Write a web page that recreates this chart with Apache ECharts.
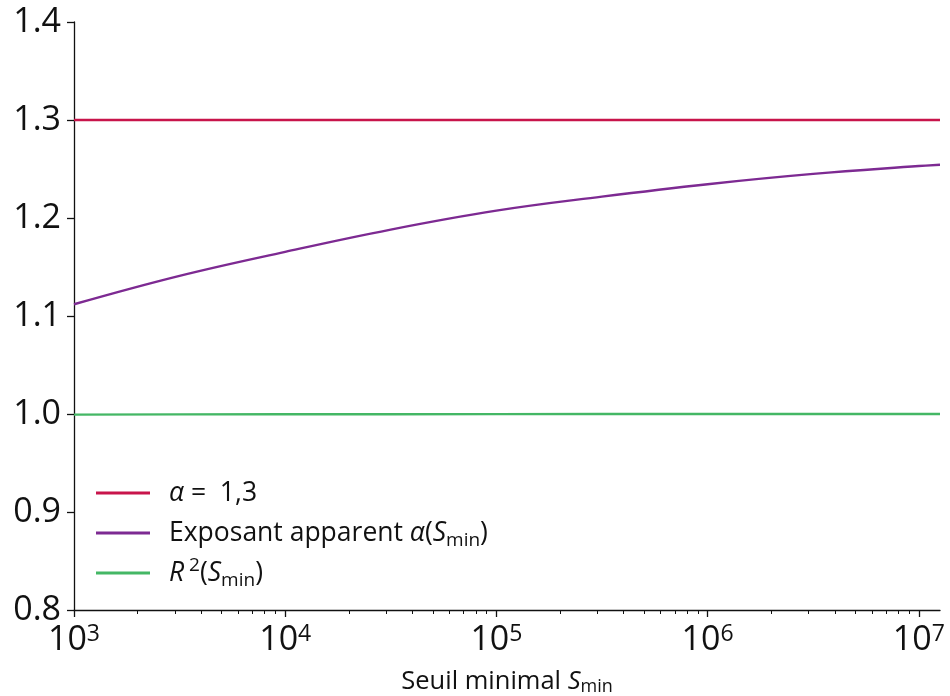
<!DOCTYPE html>
<html><head><meta charset="utf-8">
<script src="https://cdn.jsdelivr.net/npm/echarts@6/dist/echarts.min.js"></script>
<style>html,body{margin:0;padding:0;background:#fff}#c{width:950px;height:696px}</style>
</head><body><div id="c"></div>
<script>
const xMin = 1000, xMax = 1.26e7;
const majorTicks = [1e3, 1e4, 1e5, 1e6, 1e7];
const minorTicks = [];
[1e3, 1e4, 1e5, 1e6, 1e7].forEach(d => { for (let k = 2; k <= 9; k++) { if (d * k <= xMax) minorTicks.push(d * k); } });

const alphaTrueX = [1000, 1.26e7];
const alphaTrueY = [1.3, 1.3];

const sMin = [1e3, 3.16e3, 1e4, 3.16e4, 1e5, 3.16e5, 1e6, 3.16e6, 1e7, 1.26e7];
const alphaApparent = [1.112, 1.141, 1.1655, 1.1882, 1.2075, 1.2218, 1.2345, 1.2450, 1.2530, 1.2544];
const r2 = [0.9994, 0.9996, 0.9997, 0.9998, 0.9999, 0.99995, 1.0, 1.0, 1.0, 1.0];

const names = ['alpha13', 'apparent', 'r2'];
const colors = ['#c8144b', '#7d2a92', '#44b765'];

const font = '"Open Sans", "Noto Sans", sans-serif';
const chart = echarts.init(document.getElementById('c'));
const grid = { left: 74, right: 10, top: 22, bottom: 86, containLabel: false, outerBoundsMode: 'none' };

chart.setOption({
  animation: false,
  backgroundColor: '#fff',
  grid: grid,
  legend: {
    orient: 'vertical', left: 91, top: 471, itemGap: 6,
    icon: 'rect', itemWidth: 54, itemHeight: 3,
    data: names,
    textStyle: {
      fontFamily: font, fontSize: 26.5, color: '#111', padding: [0, 0, 0, 14], lineHeight: 34,
      rich: {
        i: { fontFamily: font, fontSize: 26.5, fontStyle: 'italic', color: '#111', lineHeight: 34 },
        n: { fontFamily: font, fontSize: 26.5, color: '#111', lineHeight: 34 },
        sub: { fontFamily: font, fontSize: 19, color: '#111', verticalAlign: 'bottom', lineHeight: 34, padding: [10, 0, 0, 0] },
        sp: { fontFamily: font, fontSize: 19, color: '#111', verticalAlign: 'top', lineHeight: 34, padding: [0, 0, 10, 0] }
      }
    },
    formatter: function (n) {
      if (n === 'alpha13') return '{i|α}{n| =  1,3}';
      if (n === 'apparent') return '{n|Exposant apparent }{i|α}{n|(}{i|S}{sub|min}{n|)}';
      return '{i|R}{sp| 2}{n|(}{i|S}{sub|min}{n|)}';
    }
  },
  xAxis: [{
    type: 'log', logBase: 10, min: xMin, max: xMax,
    name: '{n|Seuil minimal }{i|S}{s|min}', nameLocation: 'middle', nameGap: 58,
    nameTextStyle: {
      rich: {
        n: { fontFamily: font, fontSize: 25.5, color: '#111' },
        i: { fontFamily: font, fontSize: 25.5, color: '#111', fontStyle: 'italic' },
        s: { fontFamily: font, fontSize: 18, color: '#111', verticalAlign: 'bottom', padding: [10, 0, 0, 0] }
      }
    },
    axisLine: { show: true, lineStyle: { color: '#111', width: 1.3 } },
    axisTick: { show: true, length: 7, lineStyle: { color: '#111', width: 1.3 }, customValues: majorTicks },
    splitLine: { show: false },
    axisLabel: {
      customValues: majorTicks, margin: 13,
      formatter: function (v) {
        const e = Math.round(Math.log10(v));
        return '{b|10}{s|' + e + '}';
      },
      rich: {
        b: { fontFamily: font, fontSize: 34, color: '#111' },
        s: { fontFamily: font, fontSize: 23, color: '#111', verticalAlign: 'top', padding: [0, 0, 12, 0] }
      }
    }
  }, {
    type: 'log', logBase: 10, min: xMin, max: xMax, position: 'bottom',
    axisLine: { show: false },
    axisTick: { show: true, length: 4, lineStyle: { color: '#111', width: 1 }, customValues: minorTicks },
    axisLabel: { show: false }, splitLine: { show: false }
  }],
  yAxis: {
    type: 'value', min: 0.8, max: 1.4, interval: 0.1,
    axisLine: { show: true, lineStyle: { color: '#111', width: 1.3 } },
    axisTick: { show: true, length: 7, lineStyle: { color: '#111', width: 1.3 } },
    splitLine: { show: false },
    axisLabel: { fontFamily: font, fontSize: 34, color: '#111', margin: 13, formatter: v => v.toFixed(1) }
  },
  series: [
    { name: names[0], type: 'line', showSymbol: false, symbol: 'none', color: colors[0],
      lineStyle: { width: 2.4, color: colors[0] },
      data: alphaTrueX.map((x, i) => [x, alphaTrueY[i]]) },
    { name: names[1], type: 'line', showSymbol: false, symbol: 'none', smooth: 0.4, color: colors[1],
      lineStyle: { width: 2.4, color: colors[1] },
      data: sMin.map((x, i) => [x, alphaApparent[i]]) },
    { name: names[2], type: 'line', showSymbol: false, symbol: 'none', color: colors[2],
      lineStyle: { width: 2.4, color: colors[2] },
      data: sMin.map((x, i) => [x, r2[i]]) }
  ]
});
</script></body></html>
